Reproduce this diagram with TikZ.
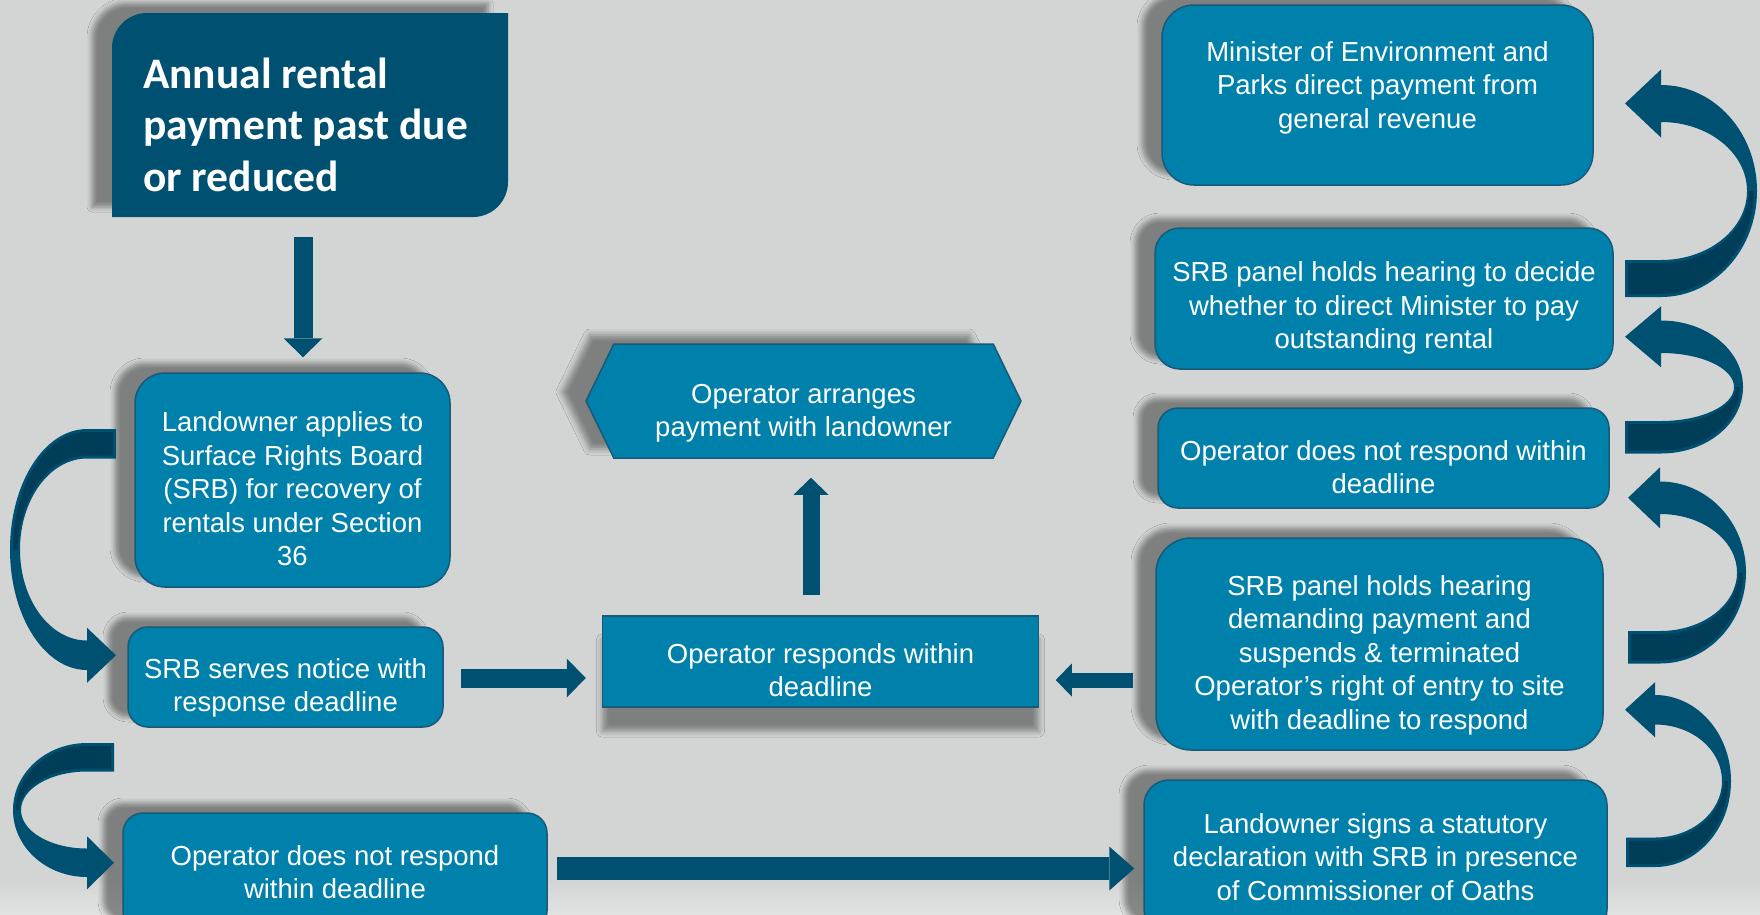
\documentclass[tikz,border=0pt]{standalone}
\usepackage{fontspec}
\setmainfont{Liberation Sans}
\newfontfamily\headfont{Carlito}
\usetikzlibrary{arrows.meta,calc,shapes.symbols,shadows.blur}

\definecolor{paper}{RGB}{211,213,213}
\definecolor{paperlow}{RGB}{225,226,226}
\definecolor{boxblue}{RGB}{0,129,171}
\definecolor{boxedge}{RGB}{24,90,120}
\definecolor{deepblue}{RGB}{0,81,113}
\definecolor{darkband}{RGB}{0,61,88}

% first line made taller / last line made deeper, to move text down / up
\newcommand{\dropby}[1]{\rule{0pt}{\dimexpr0.73em+2\dimexpr#1pt\relax\relax}}
\newcommand{\raiseby}[1]{\rule[-\dimexpr0.21em+2\dimexpr#1pt\relax\relax]{0pt}{0pt}}
% ribbon arrow: outer radii, inner radii, tail length, head half width, head length
\newcommand{\ribbon}[7]{%
  \pgfmathsetmacro{\rmid}{(#2+#4)/2}%
  \pgfmathsetmacro{\rbx}{#1-3}\pgfmathsetmacro{\rby}{#2-3}%
  \pgfmathsetmacro{\rcx}{#3+2}\pgfmathsetmacro{\rcy}{#4+3}%
  \fill[deepblue] (-#5,#2) -- (0,#2)
    arc[start angle=90, end angle=-90, x radius=#1, y radius=#2]
    -- (0,-\rmid-#6) -- (-#7,-\rmid) -- (0,-\rmid+#6) -- (0,-#4)
    arc[start angle=-90, end angle=90, x radius=#3, y radius=#4]
    -- (-#5,#4) -- cycle;
  \fill[darkband] (-#5+3,\rby) -- (0,\rby)
    arc[start angle=90, end angle=0, x radius=\rbx, y radius=\rby]
    -- (\rcx,0)
    arc[start angle=0, end angle=90, x radius=\rcx, y radius=\rcy]
    -- (-#5+3,\rcy) -- cycle;
}

\tikzset{
  boxfont/.style={inner sep=0pt, text=white, align=center,
    font=\fontsize{27.5}{33.5}\selectfont},
  panel/.style={boxfont, fill=boxblue, draw=boxedge, line width=1.5pt},
  shadowed/.style={blur shadow={shadow xshift=-20pt, shadow yshift=10pt,
    shadow blur radius=5pt, shadow opacity=40}},
  card/.style={panel, rounded corners=#1, shadowed},
  card/.default=20pt,
  flow/.style={draw=deepblue, line width=19pt,
    -{Triangle[length=19pt, width=39pt, line width=0pt]}},
}

\begin{document}
\begin{tikzpicture}[x=1pt, y=-1pt]
  \fill[paper] (0,0) rectangle (1760,914);
  \shade[top color=paper, bottom color=paperlow] (0,880) rectangle (1760,914);
  \useasboundingbox (0,0) rectangle (1760,914);

  %% left column
  \path[fill=deepblue, shadowed]
    (112,217) -- (112,48) arc[start angle=180, end angle=270, radius=35]
    -- (508,13) -- (508,182) arc[start angle=0, end angle=90, radius=35] -- cycle;
  \node[boxfont, align=left, anchor=west, minimum height=204pt,
      font=\headfont\bfseries\fontsize{43.5}{51.5}\selectfont] (A) at (143,115)
    {\dropby{9}Annual rental\\payment past due\\or reduced};

  \node[card=30pt, minimum width=315pt, minimum height=214pt] (B) at (292.5,480)
    {\dropby{9}Landowner applies to\\Surface Rights Board\\(SRB) for recovery of\\rentals under Section\\36};
  \node[card, minimum width=315pt, minimum height=100pt] (C) at (285.5,677)
    {\dropby{11}SRB serves notice with\\response deadline};
  \node[card, minimum width=424pt, minimum height=118pt] (D) at (335,872)
    {Operator does not respond\\within deadline};

  %% middle
  \node[panel, minimum width=436pt, minimum height=91pt,
      blur shadow={shadow xshift=0pt, shadow yshift=-24pt,
      shadow blur radius=6pt, shadow opacity=40}] (E) at (820.5,661.5)
    {\dropby{8.5}Operator responds within\\deadline};
  \node[panel, signal, signal to=west and east, signal pointer angle=128,
      minimum width=435pt, minimum height=114pt,
      blur shadow={shadow xshift=-24pt, shadow yshift=9pt,
      shadow blur radius=6pt, shadow opacity=40}] (F) at (803.5,401)
    {\dropby{12}Operator arranges\\payment with landowner};

  %% right column
  \node[card=32pt, minimum width=431pt, minimum height=180pt] (K) at (1377.5,95)
    {Minister of Environment and\\Parks direct payment from\\general revenue\raiseby{7.5}};
  \node[card=25pt, minimum width=458pt, minimum height=141pt] (J) at (1384,298.5)
    {\dropby{9.5}SRB panel holds hearing to decide\\whether to direct Minister to pay\\outstanding rental};
  \node[card, minimum width=451pt, minimum height=100pt] (I) at (1383.5,458)
    {\dropby{9}Operator does not respond within\\deadline};
  \node[card=35pt, minimum width=447pt, minimum height=212pt] (G) at (1379.5,644)
    {\dropby{11}SRB panel holds hearing\\demanding payment and\\suspends \& terminated\\Operator’s right of entry to site\\with deadline to respond};
  \node[card=25pt, minimum width=463pt, minimum height=154pt] (H) at (1375.5,857)
    {Landowner signs a statutory\\declaration with SRB in presence\\of Commissioner of Oaths};

  %% straight arrows
  \draw[flow] ($(A.south west)+(160,20)$) -- ($(B.north)+(10.5,-15)$);
  \draw[flow] ($(C.east)+(17,1)$) -- ($(E.west)+(-16,16.5)$);
  \draw[flow, line width=17pt, -{Triangle[length=17pt, width=35pt, line width=0pt]}]
    ($(E.north)+(-9.5,-20)$) -- ($(F.south)+(7.5,19)$);
  \draw[flow, line width=15pt, -{Triangle[length=16pt, width=33pt, line width=0pt]}]
    ($(G.west)+(-22,36)$) -- ($(E.east)+(16.5,18.5)$);
  \draw[flow, line width=23pt, -{Triangle[length=25pt, width=44pt, line width=0pt]}]
    ($(D.east)+(9,-3.5)$) -- ($(H.west)+(-9,11.5)$);

  %% curved arrows
  \begin{scope}[shift={(87,549.5)}, rotate=180]
    \ribbon{77}{120.5}{67}{91}{29}{27.5}{29}
  \end{scope}
  \begin{scope}[shift={(87,810)}, rotate=180]
    \ribbon{74}{67}{66}{38.5}{27}{26.5}{27}
  \end{scope}
  \begin{scope}[shift={(1655,781)}]
    \ribbon{76}{86}{67}{56.5}{29}{27.5}{30}
  \end{scope}
  \begin{scope}[shift={(1660,572.5)}]
    \ribbon{86}{91}{77}{58.5}{32}{30.5}{32}
  \end{scope}
  \begin{scope}[shift={(1661,387)}]
    \ribbon{82}{66.5}{73}{34}{36}{30.5}{36}
  \end{scope}
  \begin{scope}[shift={(1661,191)}]
    \ribbon{96}{106}{86}{69}{36}{34}{36}
  \end{scope}
\end{tikzpicture}
\end{document}
